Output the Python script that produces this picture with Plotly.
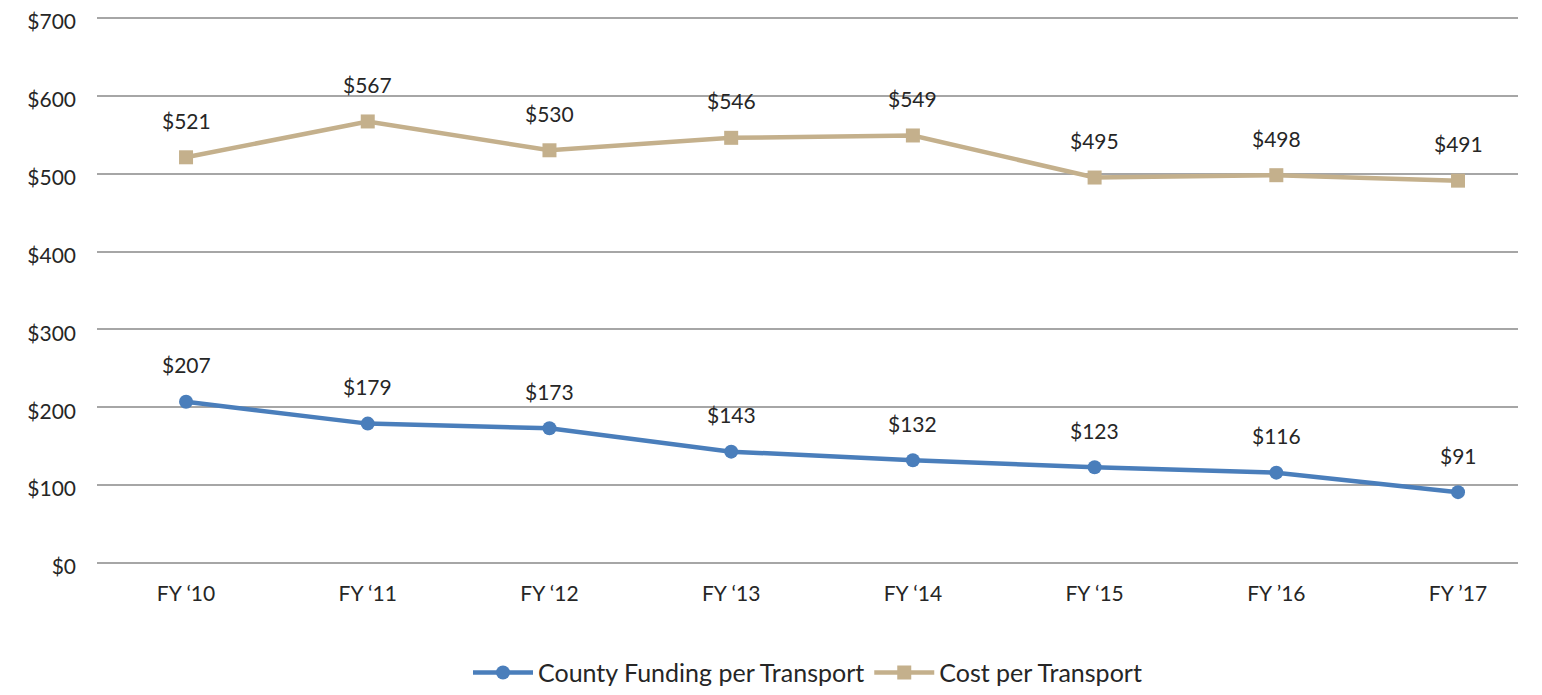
import plotly.graph_objects as go

categories = ["FY \u201810", "FY \u201811", "FY \u201812", "FY \u201813", "FY \u201814", "FY \u201815", "FY \u201916", "FY \u201917"]
county_funding = [207, 179, 173, 143, 132, 123, 116, 91]
cost_per_transport = [521, 567, 530, 546, 549, 495, 498, 491]
y_ticks = [0, 100, 200, 300, 400, 500, 600, 700]

BLUE = "#4A7EBB"
TAN = "#C4B08C"
FONT = "Lato, 'Open Sans', sans-serif"
TXT = "#262626"

xs = list(range(len(categories)))

fig = go.Figure()
fig.add_trace(go.Scatter(
    x=xs, y=county_funding, mode="lines+markers", name="County Funding per Transport",
    line=dict(color=BLUE, width=4.5), marker=dict(symbol="circle", size=14, color=BLUE),
))
fig.add_trace(go.Scatter(
    x=xs, y=cost_per_transport, mode="lines+markers", name="Cost per Transport",
    line=dict(color=TAN, width=4.5), marker=dict(symbol="square", size=14, color=TAN),
))

for series in (county_funding, cost_per_transport):
    for x, v in zip(xs, series):
        fig.add_annotation(x=x, y=v, text=f"${v}", showarrow=False, yshift=37,
                           font=dict(family=FONT, size=21, color=TXT))

# page body has an 8px default margin, so the figure is sized/positioned to compensate
fig.update_layout(
    width=1526, height=679,
    margin=dict(l=89, r=16, t=6, b=124, autoexpand=False),
    paper_bgcolor="white", plot_bgcolor="white",
    font=dict(family=FONT, size=21, color=TXT),
    showlegend=True,
    legend=dict(orientation="h", x=0.5, xanchor="center", y=-0.158, yanchor="top",
                font=dict(size=25, color=TXT), itemwidth=60, tracegroupgap=0),
    xaxis=dict(range=[-0.49, 7.33], tickmode="array", tickvals=xs, ticktext=categories,
               showgrid=False, zeroline=False, showline=False, ticks="", automargin=False,
               ticklabelstandoff=16, tickfont=dict(size=21, color=TXT)),
    yaxis=dict(range=[0, 705], tickvals=y_ticks, ticktext=[f"${v}" for v in y_ticks],
               showgrid=True, gridcolor="#A6A6A6", gridwidth=1.5, zeroline=True,
               zerolinecolor="#A6A6A6", zerolinewidth=1.5, showline=False, ticks="",
               automargin=False, ticklabeloverflow="allow", ticklabelstandoff=20,
               ticklabelshift=4, tickfont=dict(size=21, color=TXT)),
)

fig.write_html("out.html")
